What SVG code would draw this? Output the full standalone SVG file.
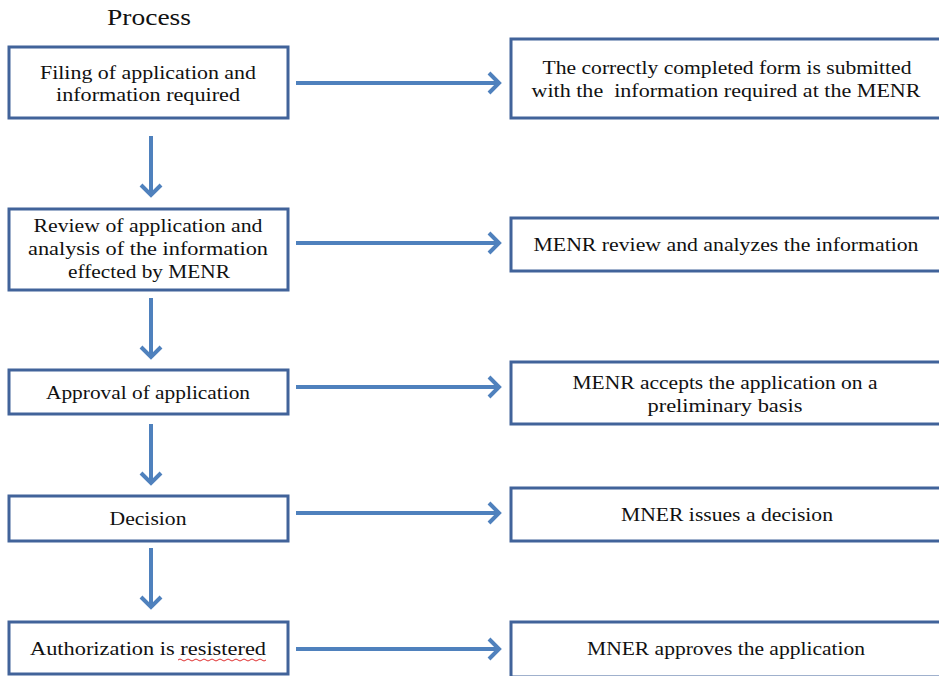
<svg xmlns="http://www.w3.org/2000/svg" width="939" height="676" viewBox="0 0 939 676">
<style>
.box{fill:#fff;stroke:#41639a;stroke-width:3}
.t{font-family:"Liberation Serif","DejaVu Serif",serif;font-size:19px;fill:#111;text-anchor:middle}
.ln{fill:none;stroke:#4f81bd;stroke-width:4}
.hd{fill:none;stroke:#4f81bd;stroke-width:4;stroke-linejoin:miter}
</style>
<rect width="939" height="676" fill="#fff"/>
<text x="149" y="25" class="t" style="font-size:23px" textLength="84" lengthAdjust="spacingAndGlyphs">Process</text>
<g id="connectors">
<line class="ln" x1="296" y1="83" x2="499" y2="83"/><polyline class="hd" points="489,73 499,83 489,93"/>
<line class="ln" x1="296" y1="243" x2="499" y2="243"/><polyline class="hd" points="489,233 499,243 489,253"/>
<line class="ln" x1="296" y1="387" x2="499" y2="387"/><polyline class="hd" points="489,377 499,387 489,397"/>
<line class="ln" x1="296" y1="513" x2="499" y2="513"/><polyline class="hd" points="489,503 499,513 489,523"/>
<line class="ln" x1="296" y1="649" x2="499" y2="649"/><polyline class="hd" points="489,639 499,649 489,659"/>
<line class="ln" x1="151" y1="136" x2="151" y2="195"/><polyline class="hd" points="141,185 151,195 161,185"/>
<line class="ln" x1="151" y1="298" x2="151" y2="357"/><polyline class="hd" points="141,347 151,357 161,347"/>
<line class="ln" x1="151" y1="424" x2="151" y2="483"/><polyline class="hd" points="141,473 151,483 161,473"/>
<line class="ln" x1="151" y1="548" x2="151" y2="607"/><polyline class="hd" points="141,597 151,607 161,597"/>
</g>
<g id="n1"><rect class="box" x="9" y="47" width="279" height="71"/>
<text class="t" x="148" y="79" textLength="216" lengthAdjust="spacingAndGlyphs">Filing of application and</text><text class="t" x="148" y="101" textLength="184" lengthAdjust="spacingAndGlyphs">information required</text></g>
<g id="n2"><rect class="box" x="9" y="209" width="279" height="81"/>
<text class="t" x="148" y="232" textLength="229" lengthAdjust="spacingAndGlyphs">Review of application and</text><text class="t" x="148" y="255" textLength="240" lengthAdjust="spacingAndGlyphs">analysis of the information</text><text class="t" x="149" y="278" textLength="162" lengthAdjust="spacingAndGlyphs">effected by MENR</text></g>
<g id="n3"><rect class="box" x="9" y="370" width="279" height="44"/>
<text class="t" x="148" y="399" textLength="204" lengthAdjust="spacingAndGlyphs">Approval of application</text></g>
<g id="n4"><rect class="box" x="9" y="496" width="279" height="45"/>
<text class="t" x="148" y="525" textLength="77" lengthAdjust="spacingAndGlyphs">Decision</text></g>
<g id="n5"><rect class="box" x="9" y="622" width="279" height="52"/>
<text class="t" x="148" y="655" textLength="236" lengthAdjust="spacingAndGlyphs">Authorization is resistered</text>
<path d="M178,660 q2,-2 4,0 t4,0 t4,0 t4,0 t4,0 t4,0 t4,0 t4,0 t4,0 t4,0 t4,0 t4,0 t4,0 t4,0 t4,0 t4,0 t4,0 t4,0 t4,0 t4,0 t4,0 t4,0" fill="none" stroke="#e03030" stroke-width="1"/></g>
<g id="r1"><rect class="box" x="511" y="39" width="440" height="79"/>
<text class="t" x="727" y="74" textLength="369" lengthAdjust="spacingAndGlyphs">The correctly completed form is submitted</text><text class="t" x="726" y="97" xml:space="preserve" textLength="389" lengthAdjust="spacingAndGlyphs">with the  information required at the MENR</text></g>
<g id="r2"><rect class="box" x="511" y="218" width="440" height="53"/>
<text class="t" x="726" y="251" textLength="385" lengthAdjust="spacingAndGlyphs">MENR review and analyzes the information</text></g>
<g id="r3"><rect class="box" x="511" y="362" width="440" height="62"/>
<text class="t" x="725" y="389" textLength="305" lengthAdjust="spacingAndGlyphs">MENR accepts the application on a</text><text class="t" x="725" y="412" textLength="155" lengthAdjust="spacingAndGlyphs">preliminary basis</text></g>
<g id="r4"><rect class="box" x="511" y="488" width="440" height="53"/>
<text class="t" x="727" y="521" textLength="212" lengthAdjust="spacingAndGlyphs">MNER issues a decision</text></g>
<g id="r5"><rect class="box" x="511" y="622" width="440" height="55"/>
<text class="t" x="726" y="655" textLength="278" lengthAdjust="spacingAndGlyphs">MNER approves the application</text></g>
</svg>
